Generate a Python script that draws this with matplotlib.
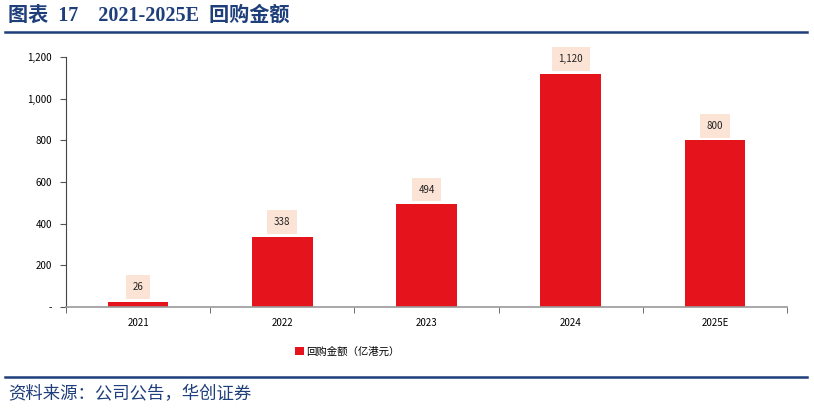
import numpy as np
from matplotlib import pyplot as plt
from matplotlib.lines import Line2D

plt.rcParams['font.family'] = ['Noto Sans CJK SC', 'DejaVu Sans']

#数据
years = ["2021", "2022", "2023", "2024", "2025E"]
buyback = [26, 338, 494, 1120, 800]
labels = ["26", "338", "494", "1,120", "800"]

blue = "#1F3F7A"
red = "#E5131C"

fig = plt.figure(figsize=(8.14, 4.08), dpi=100)
ax = fig.add_axes([0.0811, 0.2475, 0.8857, 0.6128])

x = np.arange(len(years))
ax.bar(x, buyback, width=0.42, color=red, label="回购金额（亿港元）", zorder=2)

for xi, v, t in zip(x, buyback, labels):
    ax.annotate(t, (xi, v), xytext=(0, 10.5), textcoords="offset points",
                ha="center", va="center", fontsize=7, color="#222222",
                bbox=dict(boxstyle="square,pad=0.7", fc="#FBE3D5", ec="none"))

ax.set_xlim(-0.5, len(years) - 0.5)
ax.set_ylim(0, 1200)
ax.set_yticks(np.arange(0, 1201, 200))
ax.set_yticklabels(["-"] + [f"{v:,}" for v in range(200, 1201, 200)], fontsize=7)
ax.set_xticks(x)
ax.set_xticklabels(years, fontsize=7)
ax.set_xticks(np.arange(-0.5, len(years)), minor=True)
ax.tick_params(axis="x", which="major", length=0, pad=8)
ax.tick_params(axis="x", which="minor", length=4, color="#555555")
ax.tick_params(axis="y", length=4, color="#555555", pad=6)

for s in ["top", "right"]:
    ax.spines[s].set_visible(False)
ax.spines["left"].set_color("#444444")
ax.spines["bottom"].set_color("#999999")
ax.spines["bottom"].set_linewidth(1.2)

ax.legend(loc="upper center", bbox_to_anchor=(0.39, -0.12), frameon=False,
          fontsize=7.5, handlelength=0.8, handleheight=0.8, handletextpad=0.2)

#标题和线
fig.text(0.010, 0.962, "图表  17    2021-2025E  回购金额", fontsize=14.5, fontweight="bold",
         color=blue, va="center", family=["Liberation Serif", "Noto Sans CJK SC"])
fig.add_artist(Line2D([0.006, 0.992], [0.921, 0.921], color=blue, lw=1.8))
fig.add_artist(Line2D([0.006, 0.992], [0.076, 0.076], color=blue, lw=1.8))
fig.text(0.010, 0.035, "资料来源：公司公告，华创证券", fontsize=12.5, color=blue,
         va="center", style="italic")

plt.savefig("out.png", dpi=100)
